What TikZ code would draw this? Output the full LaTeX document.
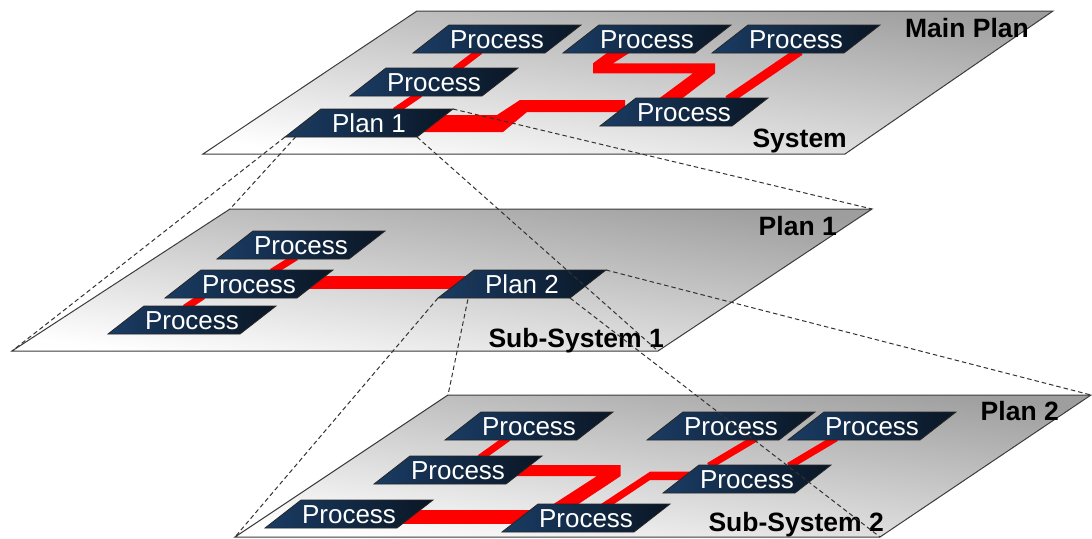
\documentclass[tikz,border=0pt]{standalone}
\usepackage{fontspec}
\setmainfont{Liberation Sans}
\definecolor{navyL}{RGB}{26,60,100}
\definecolor{navyR}{RGB}{10,22,36}
\definecolor{planeG}{RGB}{158,158,158}
\definecolor{edgeG}{RGB}{60,60,60}
\definecolor{wire}{RGB}{255,0,0}
\tikzset{
  planeshade/.style={top color=planeG, bottom color=white, shading angle=-8, draw=edgeG, line width=1pt},
  boxshade/.style={left color=navyL, right color=navyR, draw=black!85, line width=0.8pt},
  boxtext/.style={anchor=base, text=white, inner sep=0pt, font=\fontsize{26}{30}\selectfont},
  lbl/.style={anchor=base east, inner sep=0pt, font=\bfseries\fontsize{26.5}{30}\selectfont},
  thinwire/.style={draw=wire, line width=7pt},
  midwire/.style={draw=wire, line width=9pt},
  thickwire/.style={draw=wire, line width=13.5pt},
  wirefill/.style={fill=wire},
  proj/.style={draw=black!80, line width=1pt, dash pattern=on 4.5pt off 3pt}
}
\newcommand\pbox[4]{%
  \coordinate (#1-bl) at (#2,#3);
  \coordinate (#1-br) at ({#2+132},#3);
  \coordinate (#1-tr) at ({#2+168},{#3-28});
  \coordinate (#1-tl) at ({#2+36},{#3-28});
  \shade[boxshade] (#1-bl) -- (#1-br) -- (#1-tr) -- (#1-tl) -- cycle;
  \node[boxtext] (#1) at ({#2+84},{#3-5}) {#4};
}
\begin{document}
\begin{tikzpicture}[x=1pt,y=-1pt]
\useasboundingbox (0,0) rectangle (1092,538);
% plane corners
\coordinate (t-tl) at (417,11);  \coordinate (t-tr) at (1053,11);
\coordinate (t-br) at (845,154); \coordinate (t-bl) at (203,154);
\coordinate (m-tl) at (230,209); \coordinate (m-tr) at (872,209);
\coordinate (m-br) at (658,351); \coordinate (m-bl) at (12,351);
\coordinate (b-tl) at (448,395); \coordinate (b-tr) at (1091,395);
\coordinate (b-br) at (880,537); \coordinate (b-bl) at (235,537);
\shade[planeshade] (t-tl) -- (t-tr) -- (t-br) -- (t-bl) -- cycle;
\shade[planeshade] (m-tl) -- (m-tr) -- (m-br) -- (m-bl) -- cycle;
\shade[planeshade] (b-tl) -- (b-tr) -- (b-br) -- (b-bl) -- cycle;
% wires, top plane
\draw[thinwire] (480,51) -- (455,70);
\draw[thinwire] (420,94) -- (395,111);
\fill[wirefill] (415,115) -- (497,115) -- (520,100) -- (625,100) -- (625,112)
  -- (527,112) -- (503,132) -- (415,132) -- cycle;
\fill[wirefill] (611,50) -- (634,50) -- (613,63.3) -- (715,63.3) -- (715,73.3)
  -- (680,100) -- (657,100) -- (693,73.3) -- (593,73.3) -- (593,63.3) -- cycle;
\draw[midwire] (800,51) -- (728,100);
% wires, middle plane
\draw[thinwire] (296,257) -- (272,272);
\draw[thinwire] (203,296) -- (185,308);
\draw[thickwire] (300,282.5) -- (470,282.5);
% wires, bottom plane
\draw[thinwire] (508,438) -- (480,458);
\fill[wirefill] (505,465) -- (620.7,465) -- (620.7,476) -- (574,507) -- (549,507)
  -- (597,476) -- (505,476) -- cycle;
\draw[thickwire] (390,517) -- (540,517);
\fill[wirefill] (598,506) -- (650,471.7) -- (700,471.7) -- (700,480) -- (650,480)
  -- (611,506) -- cycle;
\draw[thinwire] (756,438) -- (709,466);
\draw[thinwire] (836,438) -- (789,466);
% boxes, top plane
\pbox{t1}{413}{53}{Process}
\pbox{t2}{563}{53}{Process}
\pbox{t3}{712}{53}{Process}
\pbox{t4}{350}{96}{Process}
\pbox{plan1}{285}{137}{Plan 1}
\pbox{t6}{600}{126}{Process}
% boxes, middle plane
\pbox{m1}{217}{259}{Process}
\pbox{m2}{165}{298}{Process}
\pbox{m3}{108}{334}{Process}
\pbox{plan2}{438}{298}{Plan 2}
% boxes, bottom plane
\pbox{b1}{445}{440}{Process}
\pbox{b2}{374}{484}{Process}
\pbox{b3}{265}{528}{Process}
\pbox{b4}{502}{532}{Process}
\pbox{b5}{647}{440}{Process}
\pbox{b6}{788}{440}{Process}
\pbox{b7}{663}{493}{Process}
% labels
\node[lbl] (lmain) at (1029,37) {Main Plan};
\node[lbl] (lsys) at (847,147) {System};
\node[lbl] (lp1) at (837,235) {Plan 1};
\node[lbl] (lss1) at (664,347) {Sub-System 1};
\node[lbl] (lp2) at (1059,420) {Plan 2};
\node[lbl] (lss2) at (884,531) {Sub-System 2};
% projection lines
\draw[proj] (plan1-tl) -- (m-tl);
\draw[proj] (plan1-tr) -- (m-tr);
\draw[proj] (plan1-br) -- (m-br);
\draw[proj] (plan1-bl) -- (m-bl);
\draw[proj] (plan2-tl) -- (b-tl);
\draw[proj] (plan2-tr) -- (b-tr);
\draw[proj] (plan2-br) -- (b-br);
\draw[proj] (plan2-bl) -- (b-bl);
\end{tikzpicture}
\end{document}
